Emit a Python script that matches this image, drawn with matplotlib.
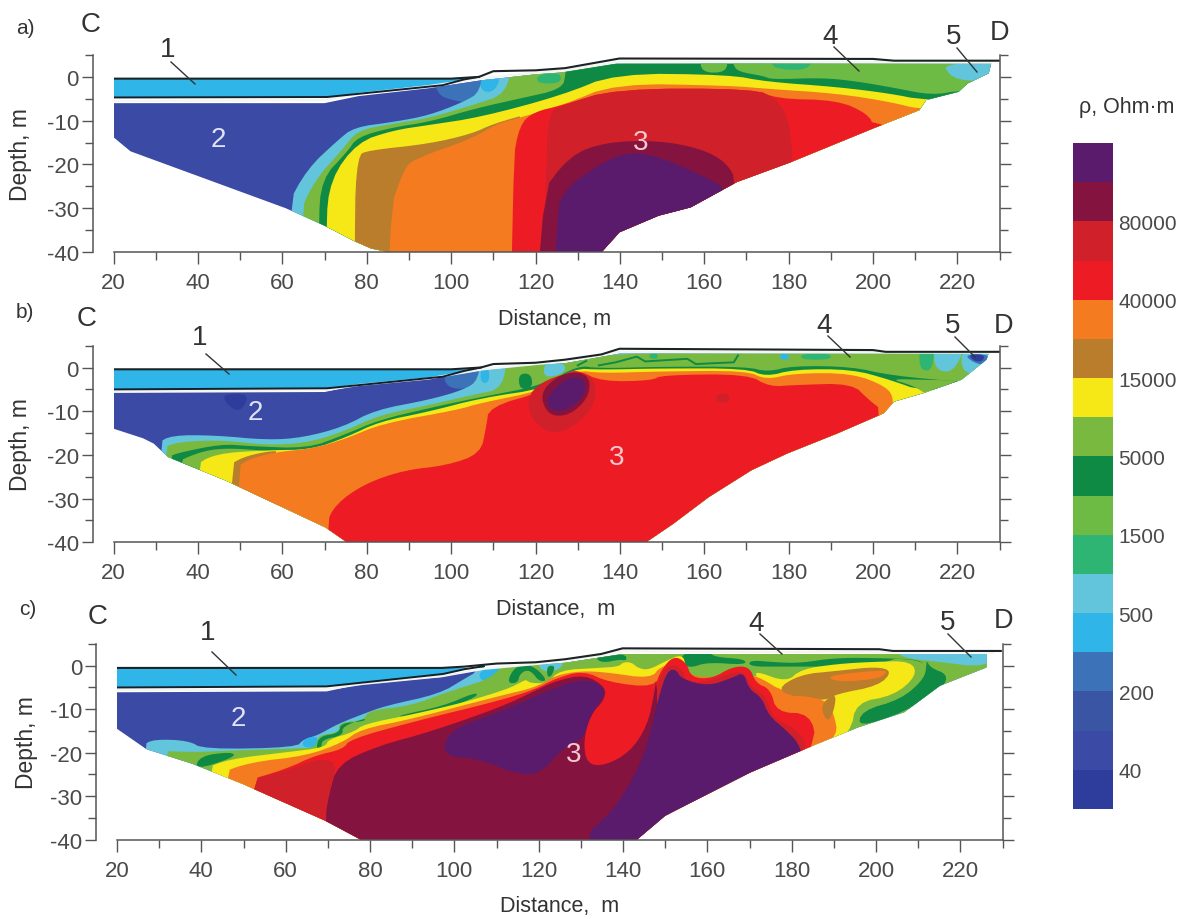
import numpy as np
import matplotlib
matplotlib.use("Agg")
import matplotlib.pyplot as plt
from matplotlib.colors import ListedColormap
from matplotlib.lines import Line2D
from matplotlib.ticker import MultipleLocator

plt.rcParams['font.family'] = ['Liberation Sans', 'DejaVu Sans']
plt.rcParams['axes.unicode_minus'] = False

W, H = 1191, 920
INK = '#4a4a4a'

# colour bands, top to bottom
PURPLE, MAROON, DKRED, RED, ORANGE, BROWN, YELLOW, LIME, DKGREEN = (
    '#5a1b6c', '#84143f', '#d0202a', '#ed1c24', '#f47b20', '#b97d2c', '#f6e716', '#7ab93f', '#0f8a44')
GREEN, TEAL, PALE, SKY, MIDBLUE, BLUE, BLUE2, NAVY = (
    '#6dbb44', '#2eb473', '#62c5dc', '#2fb5e8', '#3c72b8', '#3b55a5', '#3b4aa4', '#2e3c9c')
BAND_COLORS = [PURPLE, MAROON, DKRED, RED, ORANGE, BROWN, YELLOW, LIME, DKGREEN,
               GREEN, TEAL, PALE, SKY, MIDBLUE, BLUE, BLUE2, NAVY]
BAND_TICKS = ['80000', '40000', '15000', '5000', '1500', '500', '200', '40']

X_MAJOR = [20, 40, 60, 80, 100, 120, 140, 160, 180, 200, 220]
Y_MAJOR = [0, -10, -20, -30, -40]

# regions run past the section and get clipped to its outline, so they close far outside it
# ---------- panel a ----------
A_OUTLINE = [(20, -6), (20, -13.8), (24, -17), (60.8, -30), (70, -34), (77, -37.5), (81, -39.2), (85, -40),
             (135.7, -40), (139.9, -35.5), (149.2, -31.7), (156.8, -29.8), (167.8, -24), (180.5, -19.5),
             (200, -11.8), (211, -7.6), (212.6, -5.3), (220.3, -3.4), (222.4, -1.5), (227.4, .8), (228, 3),
             (139, 3), (126, 1), (120, .6), (107, -.8), (94.7, -2.6), (78, -4.4), (70, -6)]
A_SURFACE = [(20, -.4), (100, -.4), (106.6, 0), (110, 1.3), (120, 1.5), (127, 2), (139.9, 4.2), (200, 4.1),
             (205, 3.7), (230, 3.7)]
A_FLOOR = [(20, -4.7), (70.6, -4.6), (98, -1.9), (103, -.6), (106.6, 0)]
A_WHITE = [(20, -5.5), (70, -5.3), (78, -3.9), (94.7, -2.1), (107.5, -.3), (120, 1), (127, 1.5), (139.9, 3.5),
           (228, 3.3)]
A_LAYERS = [
    (BLUE2, A_OUTLINE),
    (MIDBLUE, [(96, -.5), (97, -4.3), (101, -5.5), (104, -5.8), (109, -2), (109, 5)]),
    (PALE, [(60.8, -30), (65.9, -21), (73.1, -14.5), (77, -11.5), (86.3, -10.3), (94.7, -8.8), (103, -5.7),
            (107, -3.4), (108, 5), (600, 5), (600, -120), (60.8, -120)]),
    (SKY, [(107, 0), (107, -3.2), (110, -3.6), (112, 0)]),
    (LIME, [(63.8, -31.7), (67.6, -23.7), (74.4, -16.4), (77.8, -12.2), (86.3, -10.7), (94.7, -9.4),
            (104.9, -6.5), (113.4, -3.8), (114.2, 5), (600, 5), (600, -120), (63.8, -120)]),
    (TEAL, [(120.4, .5), (120.4, -1.5), (126, -1.5), (126, 1)]),
    (DKGREEN, [(68.5, -34), (69.3, -23.3), (75.3, -17.2), (77.8, -13.7), (86.3, -11.5), (94.7, -10.3),
               (105.8, -7.2), (116, -5), (126.3, -2.8), (127.2, .8), (127.2, 5), (600, 5), (600, -120),
               (68.5, -120)]),
    (GREEN, [(166.5, 5), (166.8, 2.9), (168, 1.2), (174, .2), (176, -.6), (188, -.2), (196, -1), (205, -2.5),
             (214, -4.2), (221, -3), (240, -3), (240, 5)]),
    (GREEN, [(159.2, 5), (159.2, 1), (165.4, 1), (165.4, 5)]),
    (TEAL, [(176, 5), (176, 1.8), (185, 1.5), (185.5, 5)]),
    (PALE, [(216.8, 3), (217.8, .8), (220, -.5), (224, -1), (240, 0), (240, 5)]),
    (YELLOW, [(70.2, -34.4), (71.4, -23.3), (77.8, -14.9), (86.3, -12.2), (94.7, -11), (107, -9.2),
              (126.3, -4.2), (139, .8), (166, .5), (174.6, -1.1), (191.5, -2.3), (204, -3.8), (211.8, -5.3),
              (240, -6), (240, -120), (70.2, -120)]),
    (BROWN, [(77.8, -120), (77, -33), (77.8, -18), (80.3, -16.8), (94.7, -15.3), (104.9, -13), (110, -10.7),
             (120, -8), (120, -120)]),
    (ORANGE, [(83.7, -120), (85, -31.7), (88.8, -21), (91.4, -18.7), (104.9, -14.1), (110.8, -10.7),
              (116, -9.4), (126.3, -6.5), (139, -1.5), (166, -2), (174.6, -2.7), (191.5, -3.8), (204, -5.7),
              (211.8, -7.6), (240, -8), (240, -120)]),
    (RED, [(113.7, -120), (114.5, -20), (116.2, -11), (119.6, -8), (126.3, -6.5), (139, -2.7), (172, -2.7),
           (177, -5), (191.5, -5.3), (198.7, -8.4), (200.4, -11.5), (240, -13), (240, -120)]),
    (DKRED, [(123, -8.4), (126.3, -6.5), (139, -2.7), (172, -2.7), (177, -5), (179.6, -8.8), (180.9, -15.7),
             (180.5, -25), (160, -40), (122, -40), (122.5, -22)]),
    (MAROON, [(119.2, -120), (120.4, -27.9), (128, -18), (136.5, -14.9), (149, -14.5), (159.3, -16.4),
              (165.2, -19.5), (167.8, -24), (175, -120)]),
    (PURPLE, [(123, -120), (124.7, -31), (127.2, -25.6), (132.3, -21.8), (139, -18), (145, -17.2), (152.6, -19.5),
              (161, -23.3), (166, -26), (170, -120)]),
]

# ---------- panel b ----------
B_OUTLINE = [(20, -5.8), (20, -14), (27, -16.2), (29.5, -17.4), (32.9, -20.5), (46.4, -25.8), (70.2, -36.6),
             (75.3, -40), (146.2, -40), (152.6, -35.8), (161, -29.7), (171.2, -23.5), (179.6, -19.7),
             (191.5, -15.1), (202.5, -10.5), (205, -7.8), (211.8, -5.9), (221, -2.8), (226.9, 1.8), (227.4, 3.2),
             (139.9, 3.2), (127, 1), (120, .6), (107, -.7), (94.7, -2.6), (78, -4), (70, -5.6)]
B_SURFACE = [(20, -.4), (100, -.4), (107, 0), (110, .8), (120, 1.1), (127, 1.8), (135.6, 3), (139.9, 4.3),
             (200, 4), (203, 3.6), (230, 3.6)]
B_FLOOR = [(20, -5), (70.6, -4.75), (98, -2.1), (103, -.8), (107, 0)]
B_WHITE = [(20, -5.4), (70, -5.2), (78, -4), (94.7, -2.5), (107.5, -.4), (120, .8), (127, 1.4), (139.9, 3.6),
           (228, 3.4)]
B_LAYERS = [
    (BLUE2, B_OUTLINE),
    (NAVY, [(46, -6), (52, -6), (51, -9), (49, -10), (46.5, -8)]),
    (MIDBLUE, [(98, -1), (99, -4.5), (103, -5), (106, -4), (109, 5)]),
    (PALE, [(30.3, -17.4), (33.7, -15.5), (43.9, -15.5), (56.6, -16.6), (65, -16), (74.4, -13.6), (82, -9.7),
            (94.7, -7.4), (103, -5.1), (106.6, -2.8), (107, 5), (600, 5), (600, -120), (30.3, -120)]),
    (LIME, [(31.2, -18.5), (35.4, -17), (45.6, -16.6), (56.6, -17.8), (66, -17.2), (74.4, -14.7), (82.9, -10.9),
            (94.7, -8.6), (104.9, -6.3), (112.6, -4.8), (113, 5), (600, 5), (600, -120), (31.2, -120)]),
    (SKY, [(107, 0), (107, -3.5), (109, -3.5), (109, 0)]),
    (DKGREEN, [(116, -1.4), (119, -1.4), (119.3, -4.7), (116.2, -5)]),
    (PALE, [(122, 1.2), (127, 1), (127, -1.3), (122, -2.5)]),
    (TEAL, [(211, 5), (211, -.5), (214, -.8), (214.6, 5)]),
    (PALE, [(214.4, 5), (214.6, -.5), (219, -1.2), (222, 5)]),
    (PALE, [(221, 5), (221, -1.5), (228, -1.5), (228, 5)]),
    (MIDBLUE, [(221.5, 3), (224, 1), (227, .5), (228, 3)]),
    (NAVY, [(222.5, 3), (224, 1.4), (226, 1.4), (226.5, 3)]),
    (TEAL, [(147, 3.2), (149, 3.2), (149, 2), (147, 2)]),
    (SKY, [(178, 3.2), (180, 3.2), (180, 1.8), (178, 1.8)]),
    (TEAL, [(183, 3.2), (190, 3.2), (190, 1.8), (183, 1.8)]),
    (DKGREEN, [(32.9, -20.5), (35.4, -19.5), (45.6, -17.5), (52.4, -18), (66, -18.5), (74.4, -15.5), (82.9, -12),
               (94.7, -9.3), (105.8, -7), (122, -4), (130, .5), (135, -.2), (150, .2), (170, .2), (175, -1),
               (181, .4), (195, .2), (204, -1.8), (222, -3.4), (240, -3.4), (240, -120), (32.9, -120)]),
    (LIME, [(34, -22), (40.5, -19.3), (45.6, -18.5), (52, -18.7), (60, -19.5), (50, -30)]),
    (YELLOW, [(38.8, -22.8), (43.9, -19.7), (56.6, -18.9), (66.8, -18.8), (75.3, -15.9), (82.9, -12.4),
              (94.7, -10.1), (107, -7), (122.9, -4.7), (129, -.2), (135.6, -.5), (149, -.2), (170, -.2),
              (174.6, -2.1), (181.4, -.4), (195, -.4), (204, -2.8), (211.8, -5.5), (240, -5.5), (240, -120),
              (38.8, -120)]),
    (LIME, [(204, -2.6), (209, -4), (211.8, -5.5), (213, -6.5), (222, -3), (212, -2.8)]),
    (BROWN, [(46.4, -120), (47.3, -22.4), (50.7, -20.5), (55.8, -19.3), (60, -19), (60, -120)]),
    (ORANGE, [(49, -120), (49, -23), (52, -21), (58, -19.4), (67.6, -18.5), (75.3, -16.2), (83.7, -12.8),
              (101.5, -9.7), (106.6, -8.2), (122, -5.2), (129.5, -.6), (135.6, -1.3), (149, -.9), (170, -.7),
              (174.6, -2.8), (181.4, -1.3), (195, -1.3), (203.3, -4.4), (205, -7.4), (204, -12), (240, -120)]),
    (RED, [(70.2, -36), (72.7, -31.2), (79.5, -26.6), (88.8, -23.5), (99, -22.4), (107, -19.7), (108.3, -13.6),
           (109, -9), (122, -5.5), (127, -1.3), (130, -.5), (135.6, -3.2), (147.5, -3), (150, -1.7), (170.3, -1.5),
           (175.4, -4.4), (181.4, -4), (195, -3.6), (199, -7.4), (202.5, -10), (202, -120), (70, -120)]),
    (DKRED, [(118, -7), (121, -3.5), (128, -1), (134, -2), (134.5, -8), (130, -13), (124, -15.5), (119, -12)]),
    (DKRED, [(162.8, -6), (166, -6), (166, -8), (162.8, -8)]),
    (MAROON, [(121, -6), (125, -2), (130, -.8), (133, -2.5), (132.5, -7), (128, -11), (123, -11)]),
    (PURPLE, [(122.3, -7), (127, -2.6), (130, -2), (132, -3.5), (131.5, -6.5), (128, -9.5), (124, -10.3)]),
]
B_LINES = [[(130, .5), (132, 1.5)],
           [(135, .5), (139, 1.2), (144, 2.5), (146, 1.4), (156, 2), (158, .8), (167, 1.2), (168, 2.8)]]

# ---------- panel c ----------
C_OUTLINE = [(20, -6.1), (20, -14.5), (27, -19.2), (38, -22.6), (49.8, -27.2), (69.3, -35.6), (77.8, -40),
             (143.3, -40), (150, -34.5), (170.3, -24.5), (186, -18), (195.7, -14.2), (206.7, -10.7),
             (215.2, -4.6), (226.2, -.4), (226.3, 2.7), (139.9, 2.7), (126.3, .7), (119.3, .2), (106, -.8),
             (97, -2.6), (78, -4.2), (69.7, -5.9)]
C_SURFACE = [(20, -.5), (97, -.5), (102.4, -.2), (110, .5), (119.3, .8), (126.3, 1.5), (134.8, 2.7), (139.9, 4),
             (200.8, 3.8), (204, 3.4), (229.6, 3.4)]
C_FLOOR = [(20, -5), (69.7, -4.75), (97.3, -1.9), (102.4, -.8), (107, -.1)]
C_WHITE = [(20, -5.6), (69.7, -5.4), (78, -4.2), (97, -2.4), (107, -.7), (119.3, .4), (126.3, 1.1), (139.9, 3.3),
           (228, 3)]
C_LAYERS = [
    (BLUE2, C_OUTLINE),
    (PALE, [(26, -18.4), (28.6, -16.9), (37, -17.2), (40.5, -19.2), (62.5, -18.8), (64.2, -16.9), (67.6, -16),
            (72.3, -13.4), (78.6, -11), (83.7, -9.2), (96.4, -6.5), (102.4, -3), (105.8, -1.1), (106, 5),
            (600, 5), (600, -120), (26, -120)]),
    (SKY, [(64.2, -16.9), (67.6, -16), (67.6, -18.8), (64, -18.8)]),
    (SKY, [(106, -1), (106, -3.5), (111, -4), (111, 0)]),
    (LIME, [(28.6, -19.5), (38, -19.9), (47.3, -19.5), (62.5, -19), (67.2, -18.8), (67.6, -16), (72.7, -15.3),
            (72.7, -13), (78.6, -12.6), (79.5, -10.3), (89.7, -9.2), (98.1, -6.1), (110.8, -2.3), (112.5, 5),
            (600, 5), (600, -120), (28.6, -120)]),
    (PALE, [(119.5, 1), (126, 1), (125, -.9), (121, -1.5)]),
    (PALE, [(205, 5), (205, 2.7), (208, 1.6), (214, 1), (226.5, -.5), (232, 5)]),
    (DKGREEN, [(139, 1.4), (135.5, .7), (133.5, 1.5), (135, 2.7), (140.5, 2.7), (141, 1.2)]),
    (DKGREEN, [(154, 3), (154, .5), (156, -.5), (160, .8), (169, .2), (169, 1.5), (162, 2), (160.5, 3)]),
    (DKGREEN, [(170, 1.3), (176, .8), (182, .6), (190, 1.8), (200, 1.8), (211, 1.4), (211, -.5), (200, .4),
               (190, -.2), (178, -.2), (170, -.2)]),
    (DKGREEN, [(212, 1.2), (213, -.5), (217, -2), (216, -5), (206.7, -10.7), (195.7, -14.2), (196.6, -10.3),
               (205.9, -7.7), (211.4, -3), (212, .4)]),
    (LIME, [(202, 1.6), (208.4, 1.5), (212, .4), (211.4, -3), (205.9, -7.7), (196.6, -10.3), (195.7, -14.2),
            (190, -18), (186, -10)]),
    (DKGREEN, [(38.4, -24), (39.7, -20.7), (47.3, -19.8), (48, -21)]),
    (DKGREEN, [(67.2, -19), (68, -16.2), (72.7, -15.5), (73, -13.2), (78.6, -12.8), (79, -12), (73.4, -14),
               (73.6, -16), (68.6, -17), (68.5, -19)]),
    (DKGREEN, [(86, -11.6), (97.3, -9.3), (105, -6.1), (105.6, -7), (98, -10), (88.8, -11.8)]),
    (DKGREEN, [(112.5, -4), (114, -.6), (117, .5), (120, -1), (122, -3.5), (120, -3.5), (118.5, -1.5), (117, -1),
               (115.5, -2), (115, -4)]),
    (DKGREEN, [(122, -2.5), (122, 0), (124, 0), (123, -2.5)]),
    (YELLOW, [(40.5, -23.8), (46.4, -21.5), (60, -19.9), (69.3, -18.8), (70.2, -16.9), (76, -15.3), (78.6, -13.4),
              (90.5, -11.1), (102.4, -8.4), (112.5, -5.4), (116, -3.7), (117, -3.2), (118, -4), (122, -4),
              (125, -1), (134, -.5), (139, -.2), (140, .8), (142, .8), (143.5, -.5), (146, -1), (150, 1),
              (154, 2.7), (155, 0), (155, -3), (172, -3), (171.2, -1.1), (178.8, -3.8), (182.2, -.8), (190.6, .4),
              (199.1, .9), (208.4, 1.1), (209.7, -2.3), (204.2, -6.9), (195.3, -8.4), (194, -15.3), (186, -22),
              (145, -120), (40.5, -120)]),
    (ORANGE, [(43.9, -24.9), (51.5, -22.2), (65, -20.7), (73.6, -17.6), (77.8, -14.6), (89.7, -12.3), (110.8, -6.9),
              (119.3, -5), (124, -2.2), (130, -1.2), (136, -1.5), (146.6, -3), (149, 0), (155, 1), (156, -3),
              (170, -2), (173, -3), (178, -6), (188, -7), (188, -20), (150, -120), (43.9, -120)]),
    (BROWN, [(176.2, -5.5), (182, -2), (190.6, -1.2), (200, -.2), (203.9, -1.2), (200.7, -4.6), (190.6, -6.5),
             (188, -8), (182, -7.5)]),
    (ORANGE, [(188, -2.3), (200, -1.1), (203, -1.2), (200.7, -3), (191, -3.8)]),
    (ORANGE, [(178, -6.5), (188, -7.6), (190, -11), (191, -16), (186, -19), (184, -11)]),
    (BROWN, [(188, -7.8), (190.6, -6.4), (190, -10.5), (188.5, -13), (187, -10)]),
    (RED, [(49.4, -26.8), (60, -23.8), (66.8, -20.7), (73.6, -19.2), (75.3, -16.9), (89.7, -13), (110.8, -8),
           (119.3, -5.4), (123.8, -3), (130.6, -1.1), (136.5, -3.8), (147.5, -5), (149, -1), (152, 2.3),
           (155, .8), (156.2, -2.7), (161, -3), (166, -.2), (170, -.2), (171.5, -4), (175, -5.4), (176.4, -10.7),
           (184.4, -11), (186, -18), (150, -120), (49.4, -120)]),
    (DKRED, [(49.4, -26.8), (60, -24.2), (66, -22), (69.3, -21.5), (72.3, -22.6), (70, -30), (69.3, -120), (50, -120)]),
    (MAROON, [(69.3, -35.6), (70.2, -29.9), (72.3, -22.6), (82, -18.4), (93.9, -15.3), (110.8, -9.6), (119.3, -5.7),
              (124, -3.5), (131, -2), (136, -5), (135.5, -8), (132.5, -11), (130.6, -17), (131.4, -22.6),
              (135.6, -23), (141.6, -19.9), (145.8, -13.8), (147.5, -6), (148, -2), (160, -120), (69.3, -120)]),
    (DKRED, [(147.5, -6), (149.5, -1), (152, .5), (154.5, -1.5), (155, -4), (161, -3.5), (166, -1.5), (168.8, -1.5),
             (170.5, -5), (174, -7), (175.5, -12), (181, -14.5), (184, -18.5), (180, -25), (150, -25)]),
    (PURPLE, [(96.9, -20.7), (99, -14.6), (110.8, -10.7), (125, -4.5), (131.4, -3), (135.7, -5), (135.2, -7.7),
              (132.3, -11.1), (130.6, -16.9), (126.3, -18.4), (120.4, -24.9), (114.5, -24.9), (106, -21.4)]),
    (PURPLE, [(126, -120), (129.7, -40), (137.3, -33.7), (142.4, -26), (145.8, -18.4), (148.3, -7.7), (150.5, -1.1),
              (152.6, -.8), (153.8, -3), (160.2, -4.7), (166.1, -2.7), (168.6, -1.5), (169.9, -5.4), (172.9, -7.3),
              (174.6, -11.5), (178.8, -14.9), (182.2, -18.4), (185, -30), (160, -120)]),
]

# label positions in picture pixels: letter, C, D, numbers and their leaders
PANEL_NOTES = [
    dict(tag=('a)', 25, 28), c=(91, 25), d=(1000, 33), xlabel=('Distance, m', 555, 319), ylabel_x=21,
         one=(168, 50, 171, 63, 195, 85), two=(218, 140), three=(641, 143),
         four=(830, 37, 834, 48, 859, 72), five=(954, 37, 957, 49, 977, 73)),
    dict(tag=('b)', 25, 312), c=(87, 319), d=(1003, 326), xlabel=('Distance,  m', 556, 610), ylabel_x=21,
         one=(200, 338, 206, 355, 229, 375), two=(255, 413), three=(617, 458),
         four=(824, 326, 828, 337, 850, 358), five=(953, 326, 955, 338, 975, 358)),
    dict(tag=('c)', 28, 610), c=(98, 617), d=(1004, 621), xlabel=('Distance,  m', 560, 907), ylabel_x=26,
         one=(208, 633, 212, 653, 236, 676), two=(238, 719), three=(574, 755),
         four=(756, 624, 760, 635, 782, 655), five=(948, 623, 948, 635, 971, 658)),
]
PANEL_BOXES = [(113.6, 999.6, 56, 253), (113.6, 999.6, 346.7, 543.3), (117, 1002.5, 645, 840.7)]


def px_text(fig, x, y, s, size, color='#333333', **kw):
    fig.text(x / W, 1 - y / H, s, fontsize=size, color=color, ha='center', va='center', **kw)


def round_corners(pts, rounds=2):
    # corner cutting, the contours of the section are soft in the picture
    pts = np.asarray(pts, float)
    for _ in range(rounds):
        nxt = np.roll(pts, -1, axis=0)
        pts = np.column_stack([.75 * pts + .25 * nxt, .25 * pts + .75 * nxt]).reshape(-1, 2)
    return pts


def draw_section(ax, layers, outline, surface, floor, white, lines=()):
    clip = None
    for color, pts in layers:
        if pts is outline:
            xy = np.asarray(pts, float)
        else:
            xy = round_corners(pts)
        poly = ax.fill(xy[:, 0], xy[:, 1], color=color, lw=0)[0]
        if clip is None:
            clip = poly
        else:
            poly.set_clip_path(clip)
    for pts in lines:
        xs, ys = zip(*pts)
        ln, = ax.plot(xs, ys, color=DKGREEN, lw=1.4)
        ln.set_clip_path(clip)

    # the lake between surface and floor
    fl_x, fl_y = zip(*floor)
    ax.fill([20, fl_x[-1]] + list(fl_x[::-1]), [surface[0][1], surface[0][1]] + list(fl_y[::-1]), color=SKY, lw=0)
    wx, wy = zip(*white)
    ax.plot(wx, wy, color='#f4f4f0', lw=1.6, solid_capstyle='butt')
    ax.plot(fl_x, fl_y, color='#14202a', lw=1.4)
    top_x, top_y = zip(*surface)
    ax.plot(top_x, top_y, color='#1c2326', lw=1.5)


def style_axes(ax):
    ax.set_xlim(20, 230)
    ax.set_ylim(-40, 5)
    ax.spines['top'].set_visible(False)
    ax.spines['left'].set_position(('outward', 15))
    for name in ('left', 'right', 'bottom'):
        ax.spines[name].set_color('#555555')
        ax.spines[name].set_linewidth(1.1)
    ax.set_xticks(X_MAJOR)
    ax.xaxis.set_minor_locator(MultipleLocator(10))
    ax.set_yticks(Y_MAJOR)
    ax.yaxis.set_minor_locator(MultipleLocator(5))
    ax.tick_params(axis='x', which='major', length=8.5, width=1, color='#555555', labelsize=16,
                   labelcolor=INK, pad=6, direction='out')
    ax.tick_params(axis='x', which='minor', length=5.5, width=1, color='#555555', direction='out')
    ax.tick_params(axis='y', which='major', length=8, width=1, color='#555555', labelsize=16,
                   labelcolor=INK, pad=2, direction='out', left=True, right=True)
    ax.tick_params(axis='y', which='minor', length=5.5, width=1, color='#555555', direction='out',
                   left=True, right=True)
    ax.patch.set_alpha(0)


fig = plt.figure(figsize=(W / 100, H / 100), dpi=100, facecolor='white')

sections = [(A_LAYERS, A_OUTLINE, A_SURFACE, A_FLOOR, A_WHITE, ()),
            (B_LAYERS, B_OUTLINE, B_SURFACE, B_FLOOR, B_WHITE, B_LINES),
            (C_LAYERS, C_OUTLINE, C_SURFACE, C_FLOOR, C_WHITE, ())]

for box, sec, note in zip(PANEL_BOXES, sections, PANEL_NOTES):
    x0, x1, y0, y1 = box
    ax = fig.add_axes([x0 / W, 1 - y1 / H, (x1 - x0) / W, (y1 - y0) / H])
    draw_section(ax, *sec)
    style_axes(ax)

    s, x, y = note['tag']
    px_text(fig, x, y, s, 15)
    px_text(fig, note['c'][0], note['c'][1], 'C', 20)
    px_text(fig, note['d'][0], note['d'][1], 'D', 19.5)
    s, x, y = note['xlabel']
    px_text(fig, x, y, s, 15.5)
    px_text(fig, note['ylabel_x'], (y0 + y1) / 2, 'Depth, m', 16.5, rotation=90)
    for key, label in (('one', '1'), ('four', '4'), ('five', '5')):
        tx, ty, lx0, ly0, lx1, ly1 = note[key]
        px_text(fig, tx, ty, label, 20)
        fig.add_artist(Line2D([lx0 / W, lx1 / W], [1 - ly0 / H, 1 - ly1 / H], color='#333333', lw=1))
    px_text(fig, note['two'][0], note['two'][1], '2', 20, color='#dfe3f5')
    px_text(fig, note['three'][0], note['three'][1], '3', 20, color='#f6c9cf')

# colour scale
cax = fig.add_axes([1073 / W, 1 - 810 / H, 40 / W, (810 - 144) / H])
n_bands = len(BAND_COLORS)
cax.pcolormesh([0, 1], np.arange(n_bands + 1), np.arange(n_bands)[:, None],
               cmap=ListedColormap(BAND_COLORS[::-1]), shading='flat')
for sp in cax.spines.values():
    sp.set_visible(False)
cax.set_xticks([])
cax.yaxis.tick_right()
cax.set_yticks(np.arange(len(BAND_TICKS)) * 2 + 1)
cax.set_yticklabels(BAND_TICKS[::-1], fontsize=15, color=INK)
cax.tick_params(axis='y', length=0, pad=4)
px_text(fig, 1127, 107, 'ρ, Ohm·m', 15.5)

fig.savefig('out.png', dpi=100)
